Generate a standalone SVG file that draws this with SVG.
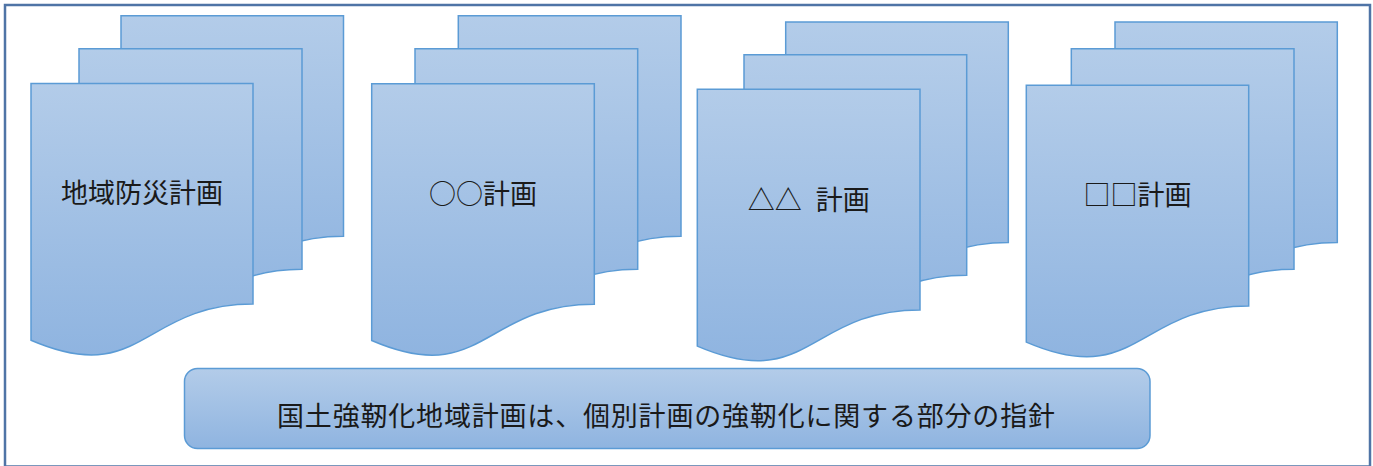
<svg xmlns="http://www.w3.org/2000/svg" width="1373" height="466" viewBox="0 0 1373 466">
<defs>
<linearGradient id="fillGrad" x1="0" y1="0" x2="0" y2="1">
<stop offset="0" stop-color="#b3cce9"/>
<stop offset="1" stop-color="#8fb4e0"/>
</linearGradient>
<style>
.doc{fill:url(#fillGrad);stroke:#5b9bd5;stroke-width:1.5;stroke-linejoin:miter}
.lbl{font-family:"Noto Sans CJK JP","Noto Sans CJK SC",sans-serif;font-size:27px;fill:#1a1a1a;text-anchor:middle}
</style>
</defs>
<rect x="5" y="5" width="1365" height="461.5" fill="#ffffff" stroke="#4f74a6" stroke-width="2.5"/>
<g id="stack-chiiki-bousai">
<path class="doc" d="M121 15.7 H343.5 V236.3 C232.3 236.3 232.3 320.3 121 272.5 Z"/>
<path class="doc" d="M79 48.7 H302 V269.3 C190.5 269.3 190.5 353.3 79 305.5 Z"/>
<path class="doc" d="M31 83.5 H253 V304.1 C142 304.1 142 388.1 31 340.3 Z"/>
<text class="lbl" x="142" y="203">地域防災計画</text>
</g>
<g id="stack-maru">
<path class="doc" d="M458.3 15.7 H681 V236.3 C569.7 236.3 569.7 320.3 458.3 272.5 Z"/>
<path class="doc" d="M415 48.7 H637.7 V269.3 C526.3 269.3 526.3 353.3 415 305.5 Z"/>
<path class="doc" d="M371.7 83.7 H594.3 V304.3 C483 304.3 483 388.3 371.7 340.5 Z"/>
<text class="lbl" x="483" y="204">○○計画</text>
</g>
<g id="stack-sankaku">
<path class="doc" d="M785.7 22 H1008.3 V242.6 C897 242.6 897 326.6 785.7 278.8 Z"/>
<path class="doc" d="M744 54.7 H966.7 V275.3 C855.3 275.3 855.3 359.3 744 311.5 Z"/>
<path class="doc" d="M697.3 89.3 H920 V309.9 C808.7 309.9 808.7 393.9 697.3 346.1 Z"/>
<text class="lbl" x="808.7" y="210" xml:space="preserve">△△ <tspan dx="8">計画</tspan></text>
</g>
<g id="stack-shikaku">
<path class="doc" d="M1115 22 H1337.3 V242.6 C1226.2 242.6 1226.2 326.6 1115 278.8 Z"/>
<path class="doc" d="M1071.3 48.7 H1294 V269.3 C1182.7 269.3 1182.7 353.3 1071.3 305.5 Z"/>
<path class="doc" d="M1026.3 85.3 H1248.7 V305.9 C1137.5 305.9 1137.5 389.9 1026.3 342.1 Z"/>
<text class="lbl" x="1137.5" y="205">□□計画</text>
</g>
<g id="guideline">
<rect x="184.5" y="368.5" width="965.5" height="80" rx="13" ry="13" class="doc"/>
<text class="lbl" x="666" y="426" textLength="778" lengthAdjust="spacing">国土強靭化地域計画は、個別計画の強靭化に関する部分の指針</text>
</g>
</svg>
